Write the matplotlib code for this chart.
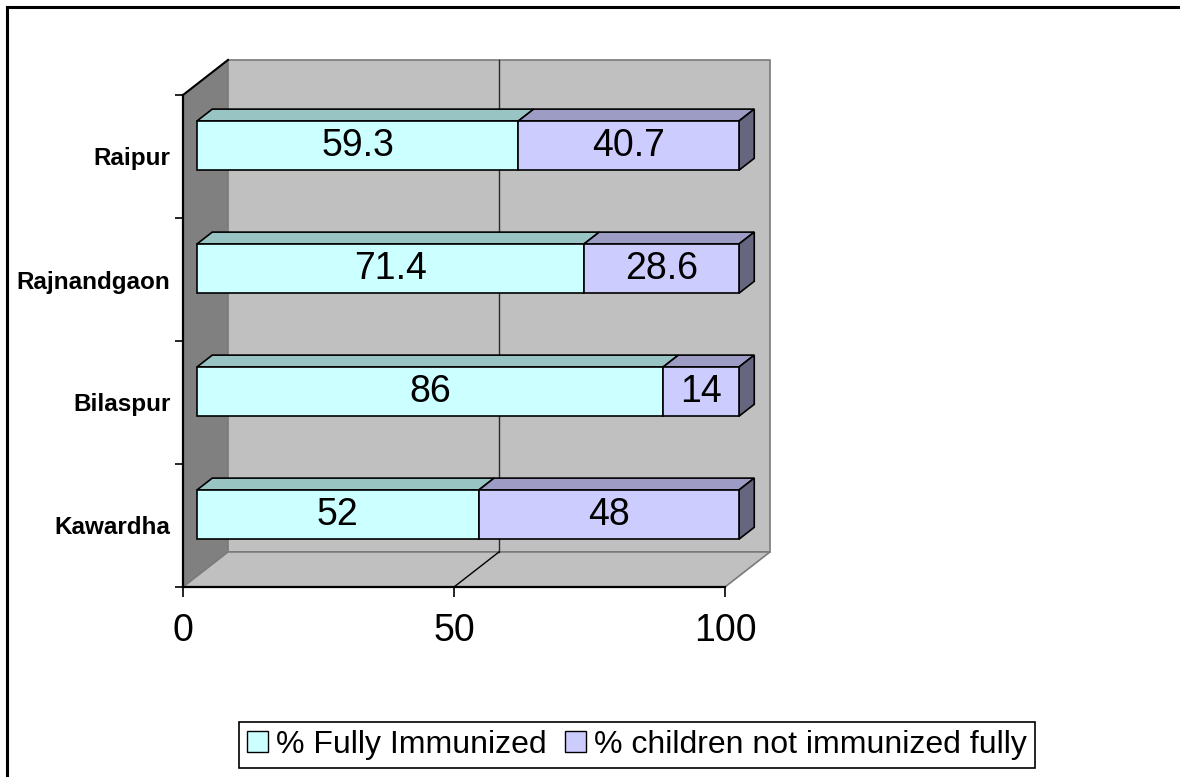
import numpy as np
import matplotlib
matplotlib.use("Agg")
import matplotlib.pyplot as plt
from matplotlib.patches import Polygon, Rectangle
from matplotlib.lines import Line2D

districts = ["Kawardha", "Bilaspur", "Rajnandgaon", "Raipur"]
fully = [52, 86, 71.4, 59.3]
not_fully = [48, 14, 28.6, 40.7]
series_names = ["% Fully Immunized", "% children not immunized fully"]
x_ticks = [0, 50, 100]

plt.rcParams["font.family"] = ["Liberation Sans", "DejaVu Sans"]

front_cols = ["#CCFFFF", "#CCCCFF"]
top_cols = ["#99C4C4", "#9C9CC4"]
side_col = "#666680"

# depth of the 3d box (data units) and bar slot within it
DX, DY = 8.3, 0.285
F0, F1 = 0.31, 0.65
BH = 0.40

fig = plt.figure(figsize=(11.8, 7.77), dpi=100)
ax = fig.add_axes([183 / 1180, 190 / 777, 542 / 1180, 492 / 777])
ax.set_facecolor("none")
xmax = x_ticks[-1]
n = len(districts)
ax.set_xlim(0, xmax)
ax.set_ylim(0, n)

# walls and floor
ax.add_patch(Polygon([(0, 0), (DX, DY), (DX, n + DY), (0, n)], closed=True,
                     fc="#808080", ec="none", clip_on=False, zorder=0))
ax.add_patch(Rectangle((DX, DY), xmax, n, fc="#C0C0C0", ec="#7A7A7A",
                       lw=1.2, clip_on=False, zorder=0))
ax.add_patch(Polygon([(0, 0), (xmax, 0), (xmax + DX, DY), (DX, DY)], closed=True,
                     fc="#C0C0C0", ec="#7A7A7A", lw=1.2, clip_on=False, zorder=0.5))
ax.plot([0, DX], [n, n + DY], color="black", lw=1.5, clip_on=False, zorder=1)
for t in x_ticks[1:-1]:
    ax.plot([t + DX, t + DX], [DY, n + DY], color="#2A2A2A", lw=1, clip_on=False, zorder=1)
    ax.plot([t, t + DX], [0, DY], color="black", lw=1, clip_on=False, zorder=1)

# bars
y = np.arange(n) + 0.5
lefts = [np.zeros(n), np.array(fully, dtype=float)]
for s, vals in enumerate([fully, not_fully]):
    vals = np.array(vals, dtype=float)
    left = lefts[s]
    ax.barh(y + F0 * DY, vals, left=left + F0 * DX, height=BH,
            color=front_cols[s], edgecolor="black", lw=1.2, zorder=4, clip_on=False)
    for j in range(n):
        x0, x1 = left[j], left[j] + vals[j]
        yt = y[j] + BH / 2
        ax.add_patch(Polygon([(x0 + F0 * DX, yt + F0 * DY), (x1 + F0 * DX, yt + F0 * DY),
                              (x1 + F1 * DX, yt + F1 * DY), (x0 + F1 * DX, yt + F1 * DY)],
                             closed=True, fc=top_cols[s], ec="black", lw=1.2,
                             clip_on=False, zorder=3))
        ax.text(x0 + vals[j] / 2 + F0 * DX, y[j] + F0 * DY, f"{vals[j]:g}",
                ha="center", va="center", fontsize=27, zorder=6)
        if s == 1:
            yb = y[j] - BH / 2
            ax.add_patch(Polygon([(x1 + F0 * DX, yb + F0 * DY), (x1 + F1 * DX, yb + F1 * DY),
                                  (x1 + F1 * DX, yt + F1 * DY), (x1 + F0 * DX, yt + F0 * DY)],
                                 closed=True, fc=side_col, ec="black", lw=1.2,
                                 clip_on=False, zorder=3))

# axes
for side in ["top", "right"]:
    ax.spines[side].set_visible(False)
for side in ["left", "bottom"]:
    ax.spines[side].set_linewidth(1.6)
    ax.spines[side].set_zorder(2)
ax.set_yticks(y, labels=districts, fontweight="bold", fontsize=17.5)
ax.set_yticks(np.arange(n + 1), minor=True)
ax.tick_params(axis="y", which="major", length=0, pad=9)
ax.tick_params(axis="y", which="minor", length=6, width=1.2)
ax.set_xticks(x_ticks)
ax.tick_params(axis="x", length=7, width=1.2, labelsize=27, pad=12)

handles = [Rectangle((0, 0), 1, 1, fc=c, ec="black", lw=1) for c in front_cols]
leg = fig.legend(handles, series_names, loc="center", bbox_to_anchor=(637 / 1180, 1 - 745 / 777),
                 ncol=2, frameon=True, fancybox=False, edgecolor="black", framealpha=1,
                 fontsize=23, handlelength=0.65, handleheight=0.65, handletextpad=0.25,
                 columnspacing=0.6, borderpad=0.25, borderaxespad=0)
leg.get_frame().set_linewidth(1.2)

# chart area border (runs off the right and bottom edges)
fig.add_artist(Line2D([7 / 1180, 1], [1 - 7 / 777, 1 - 7 / 777], transform=fig.transFigure,
                      color="black", lw=2.2))
fig.add_artist(Line2D([7 / 1180, 7 / 1180], [0, 1 - 7 / 777], transform=fig.transFigure,
                      color="black", lw=2.2))

fig.savefig("out.png", dpi=100)
